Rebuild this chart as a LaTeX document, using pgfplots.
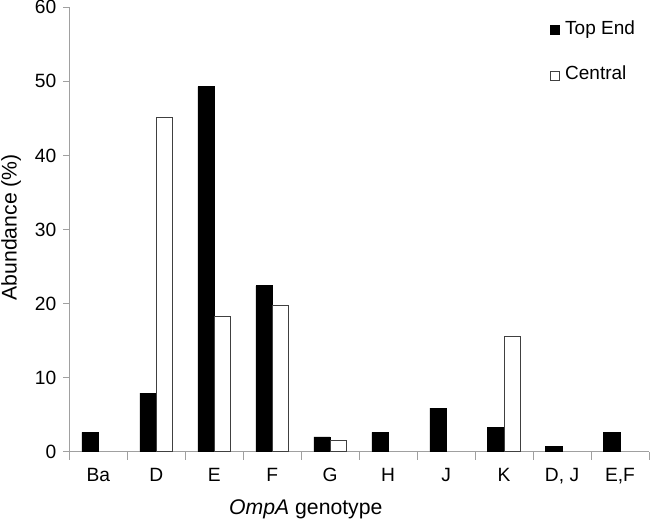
\documentclass[border=0pt]{standalone}
\usepackage{pgfplots}
\pgfplotsset{compat=1.18}
\usepackage{fontspec}
\setmainfont{Liberation Sans}

\definecolor{axgray}{HTML}{A0A0A0}
\definecolor{edge}{HTML}{404040}

% genotype positions: 0 Ba, 1 D, 2 E, 3 F, 4 G, 5 H, 6 J, 7 K, 8 D,J, 9 E,F
\pgfplotstableread{
x  top
0  2.6
1  7.9
2  49.3
3  22.4
4  2.0
5  2.6
6  5.9
7  3.3
8  0.7
9  2.65
}\topend

\pgfplotstableread{
x  central
1  45.1
2  18.3
3  19.8
4  1.45
7  15.6
}\central

\begin{document}
\begin{tikzpicture}
\begin{axis}[
    scale only axis,
    width=289.85pt, height=222.2pt,
    xmin=-0.5, xmax=9.5,
    ymin=0, ymax=60,
    ybar=0pt, bar width=8.15pt,
    axis x line=bottom, axis y line=left,
    axis line style={axgray, line width=0.5pt, -},
    xtick={0,...,9},
    xticklabels={Ba,D,E,F,G,H,J,K,{D, J},{E,F}},
    minor xtick={-0.5,0.5,...,9.5},
    major x tick style={draw=none},
    minor x tick style={axgray, line width=0.5pt},
    minor tick length=4pt,
    ytick={0,10,...,60},
    y tick style={axgray, line width=0.5pt},
    major tick length=3pt,
    tick align=outside,
    /pgf/number format/assume math mode=true,
    tick label style={font=\fontsize{9.6}{11}\selectfont},
    xticklabel style={anchor=base, yshift=-12pt, inner sep=0pt},
    yticklabel style={anchor=east, inner sep=0pt, xshift=-3.3pt},
    xlabel={\textit{OmpA} genotype},
    ylabel={Abundance (\%)},
    label style={font=\fontsize{10.6}{12}\selectfont},
    xlabel style={at={(axis description cs:0.408,0)}, anchor=base, yshift=-31.6pt, inner sep=0pt},
    ylabel style={at={(axis description cs:-0.0907,0.505)}, anchor=base, inner sep=0pt},
    legend style={draw=none, fill=none, at={(0.828,0.9715)}, anchor=north west,
        inner sep=0pt, row sep=15.5pt, column sep=2.85pt,
        font=\fontsize{9.5}{11}\selectfont,
        nodes={inner sep=0pt, text height=7pt, text depth=0pt}},
    legend cell align=left,
    legend image code/.code={\draw[#1, line width=0.4pt] (0pt,-3.6pt) rectangle (4.5pt,0.9pt);},
]
\addplot[fill=black, draw=black, line width=0.3pt, bar shift=-4.075pt] table[x=x, y=top] {\topend};
\addlegendentry{Top End}
\addplot[fill=white, draw=edge, line width=0.5pt, bar shift=4.075pt] table[x=x, y=central] {\central};
\addlegendentry{Central}
\end{axis}
\pgfresetboundingbox
\path (-34.65pt,-34.65pt) rectangle (290.35pt,225.85pt);
\end{tikzpicture}
\end{document}
